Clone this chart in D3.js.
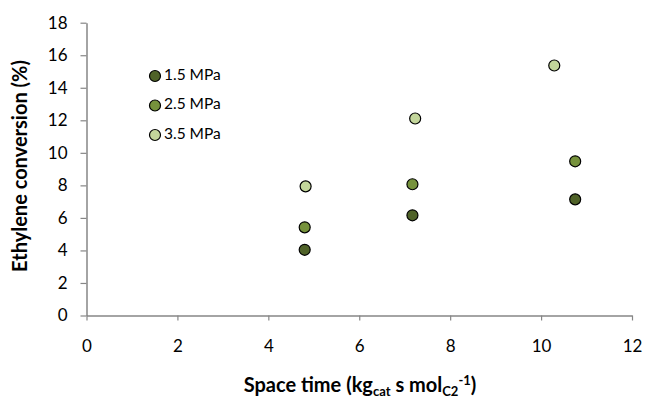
<!DOCTYPE html>
<html>
<head>
<meta charset="utf-8">
<script src="https://cdn.jsdelivr.net/npm/d3@7"></script>
<style>
  body { margin: 0; background: #fff; }
  text { font-family: Lato, "Open Sans", sans-serif; fill: #000; }
</style>
</head>
<body>
<div id="viz-wrapper"></div>
<script>
let width = 645,
    height = 399;

// data
let spaceTime15 = [4.80, 7.17, 10.75],
    conv15 = [4.04, 6.16, 7.14];
let spaceTime25 = [4.80, 7.17, 10.75],
    conv25 = [5.42, 8.07, 9.48];
let spaceTime35 = [4.82, 7.23, 10.29],
    conv35 = [7.94, 12.11, 15.37];

let seriesNames = ['1.5 MPa', '2.5 MPa', '3.5 MPa'];
let seriesColors = ['#4f6228', '#76923c', '#c3d69b'];
let xTicks = [0, 2, 4, 6, 8, 10, 12];
let yTicks = [0, 2, 4, 6, 8, 10, 12, 14, 16, 18];

let series = [
  { name: seriesNames[0], color: seriesColors[0], x: spaceTime15, y: conv15 },
  { name: seriesNames[1], color: seriesColors[1], x: spaceTime25, y: conv25 },
  { name: seriesNames[2], color: seriesColors[2], x: spaceTime35, y: conv35 }
];

let xScale = d3.scaleLinear().domain([0, 12]).range([86.5, 632]);
let yScale = d3.scaleLinear().domain([0, 18]).range([315.5, 22.7]);

let svg = d3.select('#viz-wrapper')
  .append('svg')
  .attr('width', width)
  .attr('height', height);

// axes
let xAxis = d3.axisBottom(xScale).tickValues(xTicks).tickSize(5).tickSizeOuter(0).tickPadding(19);
let yAxis = d3.axisLeft(yScale).tickValues(yTicks).tickSize(6).tickSizeOuter(0).tickPadding(13);

let gx = svg.append('g')
  .attr('transform', 'translate(0,' + yScale(0) + ')')
  .call(xAxis);
let gy = svg.append('g')
  .attr('transform', 'translate(' + xScale(0) + ',0)')
  .call(yAxis);

[gx, gy].forEach(function(g) {
  g.select('.domain').attr('stroke', '#868686').attr('stroke-width', 1.5);
  g.selectAll('.tick line').attr('stroke', '#868686').attr('stroke-width', 1.2);
  g.selectAll('.tick text')
    .style('font-family', 'Lato, "Open Sans", sans-serif')
    .style('font-size', '17px')
    .attr('fill', '#000');
});

// axis titles
svg.append('text')
  .attr('transform', 'translate(22,166) rotate(-90)')
  .attr('text-anchor', 'middle')
  .attr('dominant-baseline', 'middle')
  .style('font-size', '20px')
  .style('font-weight', 'bold')
  .text('Ethylene conversion (%)');

let xt = svg.append('text')
  .attr('x', 360)
  .attr('y', 392)
  .attr('text-anchor', 'middle')
  .style('font-size', '20px')
  .style('font-weight', 'bold');
xt.append('tspan').text('Space time (kg');
xt.append('tspan').attr('dy', 4).style('font-size', '13px').text('cat');
xt.append('tspan').attr('dy', -4).text(' s mol');
xt.append('tspan').attr('dy', 4).style('font-size', '13px').text('C2');
xt.append('tspan').attr('dy', -11).style('font-size', '13px').text('-1');
xt.append('tspan').attr('dy', 7).text(')');

// points
series.forEach(function(s) {
  svg.append('g')
    .selectAll('circle')
    .data(s.x.map(function(v, i) { return [v, s.y[i]]; }))
    .enter()
    .append('circle')
    .attr('cx', function(d) { return xScale(d[0]); })
    .attr('cy', function(d) { return yScale(d[1]); })
    .attr('r', 5.5)
    .attr('fill', s.color)
    .attr('stroke', '#000')
    .attr('stroke-width', 1.2);
});

// legend
let legendY = [76, 105.5, 135];
let legend = svg.append('g').selectAll('g')
  .data(series)
  .enter()
  .append('g')
  .attr('transform', function(d, i) { return 'translate(155,' + legendY[i] + ')'; });
legend.append('circle')
  .attr('r', 5.5)
  .attr('fill', function(d) { return d.color; })
  .attr('stroke', '#000')
  .attr('stroke-width', 1.2);
legend.append('text')
  .attr('x', 9)
  .attr('dominant-baseline', 'middle')
  .style('font-size', '15.5px')
  .text(function(d) { return d.name; });
</script>
</body>
</html>
